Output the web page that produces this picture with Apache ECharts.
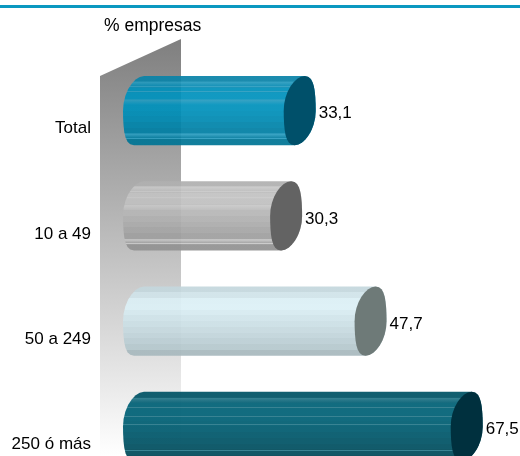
<!DOCTYPE html>
<html><head><meta charset="utf-8">
<style>html,body{margin:0;padding:0;background:#fff}#c{width:520px;height:456px}</style>
<script src="https://cdn.jsdelivr.net/npm/echarts@6/dist/echarts.min.js"></script>
</head><body><div id="c"></div>
<script>
const categories = ['Total', '10 a 49', '50 a 249', '250 ó más'];
const values = [33.1, 30.3, 47.7, 67.5];
const valueLabels = ['33,1', '30,3', '47,7', '67,5'];
const axisTitle = '% empresas';

const bands = [
  ['#0a83a8','#0a8cb4','#0090ba','#0092bd','#0092bd','#0091bb','#008eb7','#008ab2','#0084aa','#007fa4','#007a9d','#007595'],
  ['#b0b0b0','#bcbcbc','#c2c2c2','#c0c0c0','#bbbbbb','#b6b6b6','#b0b0b0','#ababab','#a5a5a5','#9f9f9f','#999999','#929292'],
  ['#c4d7dd','#d0e3e9','#dbeff5','#dcf0f6','#d6eaf0','#d0e4ea','#cbdfe5','#c6d9df','#c1d4da','#bbced4','#b5c8cd','#a8b9be'],
  ['#005365','#005d72','#006176','#006176','#006075','#005e72','#005b6f','#00576a','#005365','#004f60','#004b5b','#004656']
];
const hairlines = [
  [0.07, 0.14, 0.22, 0.33, 0.83, 0.9],
  [0.07, 0.14, 0.22, 0.33, 0.83, 0.9],
  [],
  [0.07, 0.22, 0.35, 0.46, 0.84]
];
const hairColors = ['#2a9cbf', '#c8c8c8', '#e4f2f6', '#2a7a8b'];
const caps = ['#00506a', '#636363', '#6e7a78', '#00303e'];

function stops(i) {
  const list = bands[i];
  const out = [];
  list.forEach((c, k) => {
    const f = k / list.length, t = (k + 1) / list.length;
    const hs = hairlines[i].filter(h => h >= f && h < t);
    let p = f;
    hs.forEach(h => {
      out.push({offset: p, color: c}, {offset: h, color: c},
               {offset: h, color: hairColors[i]}, {offset: h + 0.014, color: hairColors[i]});
      p = h + 0.014;
    });
    out.push({offset: Math.min(p, t), color: c}, {offset: t, color: c});
  });
  return out;
}
function pow(v, e) { return Math.sign(v) * Math.pow(Math.abs(v), e); }
function outline(cx, cy, a, b, s, from, to, n) {
  const pts = [];
  for (let i = 0; i <= n; i++) {
    const t = from + (to - from) * i / n;
    const st = Math.sin(t);
    pts.push([cx + a * pow(Math.cos(t), 0.92) + s * pow(st, 2), cy + b * st]);
  }
  return pts;
}
const chart = echarts.init(document.getElementById('c'), null, {renderer: 'canvas'});
chart.setOption({
  animation: false,
  backgroundColor: '#fff',
  grid: {left: 139, top: 58, width: 388.4, height: 421, outerBoundsMode: 'none', containLabel: false},
  xAxis: {type: 'value', min: 0, max: 80, show: false},
  yAxis: {
    type: 'category', inverse: true, data: categories,
    axisLine: {show: false}, axisTick: {show: false}, splitLine: {show: false},
    axisLabel: {margin: 48, color: '#000', fontFamily: 'Liberation Sans', fontSize: 17, lineHeight: 36, formatter: v => '\n' + v, align: 'right', verticalAlign: 'middle', interval: 0}
  },
  graphic: [
    {type: 'rect', z: 0, shape: {x: 0, y: 5, width: 520, height: 3}, style: {fill: '#0a98c0'}},
    {type: 'polygon', z: 0, shape: {points: [[100, 76], [181, 39], [181, 456], [100, 456]]},
     style: {fill: new echarts.graphic.LinearGradient(0, 0, 0, 1, [{offset: 0, color: '#7f7f7f'}, {offset: 1, color: '#ffffff'}])}},
    {type: 'text', z: 5, x: 104, y: 17, style: {text: axisTitle, fill: '#000', font: '17.5px "Liberation Sans"'}}
  ],
  series: [{
    type: 'custom',
    coordinateSystem: 'cartesian2d',
    data: values.map((v, i) => [v, i]),
    clip: false,
    renderItem(params, api) {
      const i = api.value(1);
      const end = api.coord([api.value(0), i]);
      const start = api.coord([0, i]);
      const b = api.size([0, 1])[1] * 0.328;
      const a = 16, s = -5;
      const cy = end[1];
      const left = outline(start[0], cy, a, b, s, -Math.PI / 2, -Math.PI * 3 / 2, 14);
      const right = outline(end[0], cy, a, b, s, Math.PI / 2, -Math.PI / 2, 14);
      return {
        type: 'group',
        children: [
          {type: 'polygon', shape: {points: left.concat(right)},
           style: {opacity: 0.93, fill: new echarts.graphic.LinearGradient(0, 0, 0, 1, stops(i))}},
          {type: 'polygon', shape: {points: outline(end[0], cy, a, b, s, 0, Math.PI * 2, 32)}, style: {fill: caps[i]}},
          {type: 'text', x: end[0] + 19, y: cy + 3, style: {text: valueLabels[i], fill: '#000', font: '17px "Liberation Sans"', align: 'left', verticalAlign: 'middle'}}
        ]
      };
    }
  }]
});
</script></body></html>
